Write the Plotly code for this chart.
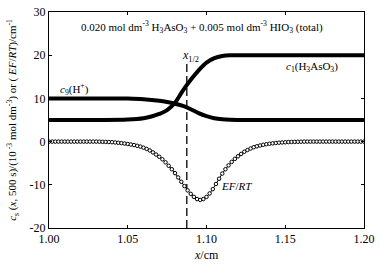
import numpy as np
import plotly.graph_objects as go

# ---- data ----
c1_x = [1.00, 1.03, 1.05, 1.06, 1.065, 1.07, 1.075, 1.08, 1.085, 1.09, 1.095, 1.10, 1.105, 1.11, 1.115, 1.12, 1.15, 1.20]
c1_y = [5.0, 5.0, 5.1, 5.4, 5.8, 6.4, 7.3, 9.0, 11.8, 14.3, 16.5, 18.3, 19.3, 19.8, 20.0, 20.0, 20.0, 20.0]

c9_x = [1.00, 1.04, 1.05, 1.06, 1.07, 1.075, 1.08, 1.085, 1.09, 1.095, 1.10, 1.105, 1.11, 1.115, 1.12, 1.20]
c9_y = [10.0, 10.0, 9.95, 9.8, 9.45, 9.15, 8.75, 8.25, 7.5, 6.6, 5.9, 5.4, 5.15, 5.04, 5.0, 5.0]

ef_x = list(np.round(np.linspace(1.0, 1.2, 101), 3))
ef_y = ([0.0] * 16 +
        [-0.02, -0.05, -0.07, -0.1, -0.14, -0.2, -0.27, -0.35, -0.45, -0.55,
         -0.67, -0.8, -0.97, -1.15, -1.4, -1.7, -2.05, -2.5, -3.0, -3.5,
         -4.1, -4.8, -5.6, -6.4, -7.3, -8.3, -9.3, -10.3, -11.3, -12.1,
         -12.8, -13.3, -13.5, -13.3, -12.8, -12.0, -11.0, -9.8, -8.6, -7.4,
         -6.4, -5.5, -4.7, -4.0, -3.4, -2.85, -2.35, -1.95, -1.6, -1.3,
         -1.08, -0.9, -0.74, -0.6, -0.49, -0.4, -0.32, -0.25, -0.2, -0.15,
         -0.11, -0.08, -0.06, -0.04, -0.02] +
        [0.0] * 20)

x_half = 1.0875
x_half_top = 18.7
y_min, y_max = -20, 30
x_min, x_max = 1.0, 1.2

x_ticks = [1.00, 1.05, 1.10, 1.15, 1.20]
x_ticktext = ["1.00", "1.05", "1.10", "1.15", "1.20"]
y_ticks = [-20, -10, 0, 10, 20, 30]
y_ticktext = ["-20", "-10", "0", "10", "20", "30"]

FONT = "Liberation Serif"

fig = go.Figure()
fig.add_trace(go.Scatter(x=[x_half, x_half], y=[y_min, x_half_top], mode="lines",
                         line=dict(color="black", width=1.3, dash="8px,4px")))
fig.add_trace(go.Scatter(x=c9_x, y=c9_y, mode="lines", line_shape="spline",
                         line=dict(color="black", width=4)))
fig.add_trace(go.Scatter(x=c1_x, y=c1_y, mode="lines", line_shape="spline",
                         line=dict(color="black", width=4)))
fig.add_trace(go.Scatter(x=ef_x, y=ef_y, mode="lines+markers", line_shape="spline",
                         line=dict(color="black", width=1),
                         marker=dict(symbol="circle", size=3.5, color="white",
                                     line=dict(color="black", width=1))))

ann = [
    dict(x=0.485, y=26.6, xref="paper", yref="y",
         text="0.020 mol dm<sup>-3</sup> H<sub>3</sub>AsO<sub>3</sub> + 0.005 mol dm<sup>-3</sup> HIO<sub>3</sub> (total)",
         font=dict(size=11)),
    dict(x=x_half, y=19.9, xref="x", yref="y",
         text="<i>x</i><sub>1/2</sub>", font=dict(size=12), xshift=4),
    dict(x=1.016, y=12.1, xref="x", yref="y",
         text="<i>c</i><sub>9</sub>(H<sup>+</sup>)", font=dict(size=11)),
    dict(x=1.167, y=17.2, xref="x", yref="y",
         text="<i>c</i><sub>1</sub>(H<sub>3</sub>AsO<sub>3</sub>)", font=dict(size=11)),
    dict(x=1.119, y=-10.3, xref="x", yref="y",
         text="<i>EF</i>/<i>RT</i>", font=dict(size=11)),
    dict(x=0.5, y=-0.126, xref="paper", yref="paper",
         text="<i>x</i>/cm", font=dict(size=12)),
    dict(x=-0.115, y=0.5, xref="paper", yref="paper", textangle=-90,
         text="<i>c</i><sub>s</sub> (<i>x</i>, 500 s)/(10<sup> -3</sup> mol dm<sup>-3</sup>) or ( <i>EF</i>/<i>RT</i>)/cm<sup>-1</sup>",
         font=dict(size=11)),
]
for a in ann:
    a.setdefault("showarrow", False)
    a.setdefault("xanchor", "center")
    a.setdefault("yanchor", "middle")

fig.update_layout(
    width=380, height=270,
    margin=dict(l=49, r=10, t=5, b=42),
    paper_bgcolor="white", plot_bgcolor="white",
    showlegend=False,
    font=dict(family=FONT, color="black", size=12),
    annotations=ann,
)
fig.update_xaxes(range=[x_min, x_max + 1e-6], tickvals=x_ticks, ticktext=x_ticktext,
                 showgrid=False, zeroline=False, showline=True, linecolor="black",
                 linewidth=1, mirror="ticks", ticks="inside", ticklen=3,
                 tickcolor="black", tickfont=dict(size=12, family=FONT),
                 ticklabeloverflow="allow")
fig.update_yaxes(range=[y_min, y_max + 1e-4], tickvals=y_ticks, ticktext=y_ticktext,
                 showgrid=False, zeroline=False, showline=True, linecolor="black",
                 linewidth=1, mirror="ticks", ticks="inside", ticklen=3,
                 tickcolor="black", tickfont=dict(size=12, family=FONT),
                 ticklabeloverflow="allow")

fig.write_html("out.html", config={"displayModeBar": False},
               post_script="document.body.style.margin='0';document.body.style.overflow='hidden';")
